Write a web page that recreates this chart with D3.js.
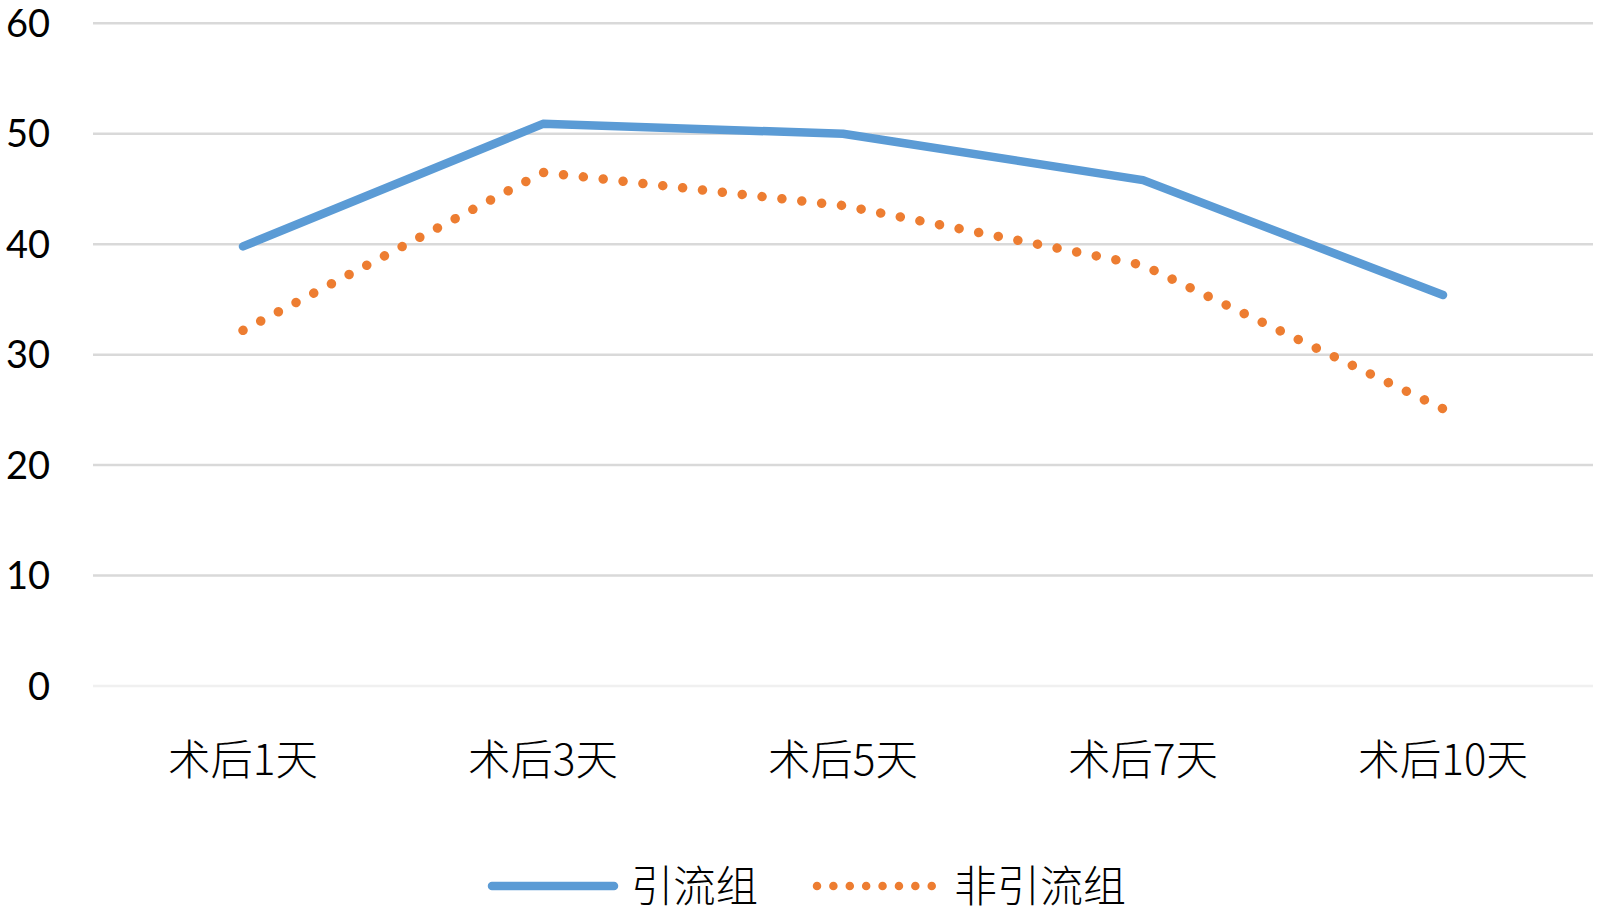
<!DOCTYPE html>
<html><head><meta charset="utf-8">
<script src="https://cdn.jsdelivr.net/npm/d3@7"></script>
<style>body{margin:0;background:#fff}svg{display:block}</style>
</head><body>
<svg id="c" width="1600" height="915"></svg>
<script>
const categories = ["术后1天","术后3天","术后5天","术后7天","术后10天"];
const drainValues = [39.8, 50.9, 50.0, 45.8, 35.4];
const nonDrainValues = [32.2, 46.5, 43.5, 38.1, 25.1];
const seriesNames = ["引流组","非引流组"];
const yTicks = [0,10,20,30,40,50,60];

(function(){
const svg = d3.select("#c");
const pLeft = 93, pRight = 1593, pTop = 23.3, pBottom = 686;
const x = d3.scaleBand().domain(categories).range([pLeft, pRight]);
const y = d3.scaleLinear().domain([0,60]).range([pBottom, pTop]);
const cx = d => x(d) + x.bandwidth()/2;

// gridlines
svg.append("g").selectAll("line").data(yTicks).join("line")
  .attr("x1", pLeft).attr("x2", pRight)
  .attr("y1", d => y(d)).attr("y2", d => y(d))
  .attr("stroke", d => d === 0 ? "#f0f0f0" : "#d9d9d9")
  .attr("stroke-width", 2.5);

// y labels
svg.append("g").selectAll("text").data(yTicks).join("text")
  .attr("x", 50).attr("y", d => y(d)).attr("dy", "0.36em")
  .attr("text-anchor", "end")
  .attr("font-family", "Lato, 'Open Sans', sans-serif")
  .attr("font-size", 38).attr("fill", "#000")
  .text(d => d);

// x labels
svg.append("g").selectAll("text").data(categories).join("text")
  .attr("x", d => cx(d)).attr("y", 775)
  .attr("text-anchor", "middle")
  .attr("font-family", "'Noto Sans CJK SC', sans-serif")
  .attr("font-size", 42).attr("font-weight", 300).attr("fill", "#000")
  .attr("textLength", d => d.length === 5 ? 170 : 150)
  .attr("lengthAdjust", "spacingAndGlyphs")
  .text(d => d);

const line = d3.line().x((d,i) => cx(categories[i])).y(d => y(d));

svg.append("path").datum(drainValues)
  .attr("d", line).attr("fill", "none")
  .attr("stroke", "#5B9BD5").attr("stroke-width", 8.5)
  .attr("stroke-linecap", "round").attr("stroke-linejoin", "round");

const op = svg.append("path").datum(nonDrainValues)
  .attr("d", line).attr("fill", "none")
  .attr("stroke", "#ED7D31").attr("stroke-width", 9.5)
  .attr("stroke-linecap", "round");
const L = op.node().getTotalLength();
const n = Math.round(L / 20);
op.attr("stroke-dasharray", "0.01," + (L / n - 0.02));

// legend
const ly = 886;
svg.append("line").attr("x1", 492).attr("x2", 614).attr("y1", ly).attr("y2", ly)
  .attr("stroke", "#5B9BD5").attr("stroke-width", 8.5).attr("stroke-linecap", "round");
svg.append("line").attr("x1", 817).attr("x2", 932).attr("y1", ly).attr("y2", ly)
  .attr("stroke", "#ED7D31").attr("stroke-width", 8.5).attr("stroke-linecap", "round")
  .attr("stroke-dasharray", "0.01," + ((932 - 817) / 7 - 0.05));
const legendText = [{t: seriesNames[0], x: 631, w: 127}, {t: seriesNames[1], x: 954, w: 172}];
svg.append("g").selectAll("text").data(legendText).join("text")
  .attr("x", d => d.x).attr("y", ly + 16)
  .attr("font-family", "'Noto Sans CJK SC', sans-serif")
  .attr("font-size", 43).attr("font-weight", 300).attr("fill", "#000")
  .attr("textLength", d => d.w).attr("lengthAdjust", "spacingAndGlyphs")
  .text(d => d.t);
})();
</script>
</body></html>
